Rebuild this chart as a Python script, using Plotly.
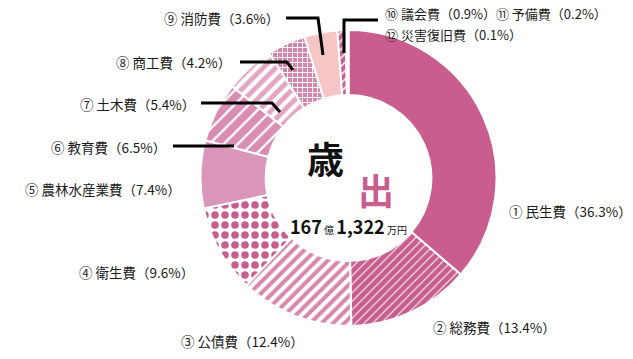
import plotly.graph_objects as go

W, H = 633, 359

categories = ["① 民生費", "② 総務費", "③ 公債費", "④ 衛生費", "⑤ 農林水産業費", "⑥ 教育費",
              "⑦ 土木費", "⑧ 商工費", "⑨ 消防費", "⑩ 議会費", "⑪ 予備費", "⑫ 災害復旧費"]
shares = [36.3, 13.4, 12.4, 9.6, 7.4, 6.5, 5.4, 4.2, 3.6, 0.9, 0.2, 0.1]
total_oku = "167"
total_man = "1,322"

PINK = "#C85D8E"
bgcolors = [PINK, PINK, "#FFFFFF", "#FFFFFF", "#DA96B8", "#D98DB2",
            "#FFFFFF", "#D683AB", "#F6C6C6", PINK, "#E3A9C4", "#FFFFFF"]
fgcolors = [PINK, "#FFFFFF", "#D886AC", PINK, "#DA96B8", "#FFFFFF",
            "#E2A6C4", "#FFFFFF", "#F6C6C6", "#FFFFFF", "#E3A9C4", "#FFFFFF"]
shapes_p = ["", "/", "/", ".", "", "/", "/", "+", "", "/", "", ""]
sizes_p = [8, 6, 8, 10, 8, 10, 9, 5, 8, 6, 8, 8]
solid_p = [0.3, 0.18, 0.5, 0.45, 0.3, 0.22, 0.55, 0.35, 0.3, 0.25, 0.3, 0.3]

def px(x):
    return x / W

def py(y):
    return 1 - y / H

fig = go.Figure(go.Pie(
    labels=categories, values=shares, sort=False, direction="clockwise", rotation=0,
    hole=0.56, textinfo="none", showlegend=False,
    marker=dict(colors=bgcolors, line=dict(color="white", width=2),
                pattern=dict(shape=shapes_p, fgcolor=fgcolors, bgcolor=bgcolors,
                             size=sizes_p, solidity=solid_p, fillmode="replace")),
    domain=dict(x=[px(200), px(497)], y=[py(326), py(30)]),
))

FONT = "Noto Sans CJK JP"
LBL = dict(family=FONT, size=13.5, color="#1a1a1a")
LBL_S = dict(family=FONT, size=13, color="#1a1a1a")
label_pos = [
    (507, 211, "left"), (431, 327, "left"), (306, 341, "right"), (196, 272, "right"),
    (183, 189, "right"), (168, 147, "right"), (197, 104, "right"), (233, 62, "right"),
    (281, 18, "right"),
]
annotations = []
for i, (x, y, anc) in enumerate(label_pos):
    annotations.append(dict(x=px(x), y=py(y), xref="paper", yref="paper", xanchor=anc,
                            yanchor="middle", showarrow=False,
                            text=f"{categories[i]}（{shares[i]}%）", font=LBL))
annotations.append(dict(x=px(384), y=py(14), xref="paper", yref="paper", xanchor="left",
                        yanchor="middle", showarrow=False,
                        text=f"{categories[9]}（{shares[9]}%）{categories[10]}（{shares[10]}%）",
                        font=LBL_S, borderpad=0))
annotations.append(dict(x=px(384), y=py(34.5), xref="paper", yref="paper", xanchor="left",
                        yanchor="middle", showarrow=False,
                        text=f"{categories[11]}（{shares[11]}%）", font=LBL_S, borderpad=0))
# center texts
annotations.append(dict(x=px(326), y=py(158), xref="paper", yref="paper", showarrow=False,
                        text="<b>歳</b>", font=dict(family=FONT, size=37, color="#111")))
annotations.append(dict(x=px(376), y=py(189), xref="paper", yref="paper", showarrow=False,
                        text="<b>出</b>", font=dict(family=FONT, size=36, color=PINK)))
annotations.append(dict(x=px(348), y=py(241), xref="paper", yref="paper", showarrow=False,
                        text=(f"<b>{total_oku}</b><span style='font-size:10px'> 億 </span>"
                              f"<b>{total_man}</b><span style='font-size:10px'> 万円</span>"),
                        font=dict(family=FONT, size=18, color="#111")))

leaders = [
    [(286, 18), (318, 18), (323, 55)],
    [(378, 20), (344, 20), (344, 53)],
    [(240, 62), (287, 62), (293, 70)],
    [(201, 103), (272, 103), (280, 112)],
    [(173, 146), (234, 146)],
]
shapes = []
for pts in leaders:
    path = "M " + " L ".join(f"{px(x)},{py(y)}" for x, y in pts)
    shapes.append(dict(type="path", path=path, xref="paper", yref="paper",
                       line=dict(color="black", width=3)))

fig.update_layout(width=W, height=H, margin=dict(l=0, r=0, t=0, b=0),
                  paper_bgcolor="white", plot_bgcolor="white",
                  annotations=annotations, shapes=shapes)
fig.write_html("out.html", config={"displayModeBar": False},
               post_script="document.body.style.margin='0';document.body.style.overflow='hidden';")
